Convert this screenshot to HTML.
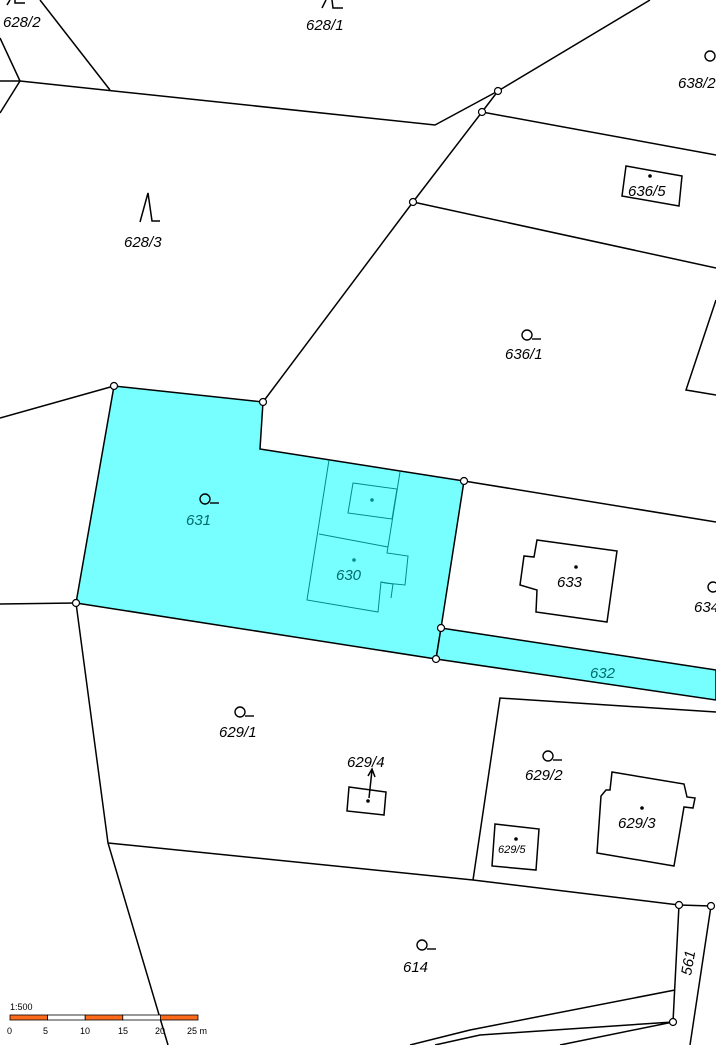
<!DOCTYPE html>
<html><head><style>
body{margin:0;background:#fff;width:716px;height:1045px;overflow:hidden}
svg{display:block}
text{font-family:"Liberation Sans",sans-serif;font-style:italic;font-size:15px;fill:#000}
</style></head><body>
<svg width="716" height="1045" viewBox="0 0 716 1045" xmlns="http://www.w3.org/2000/svg">
<g fill="#77ffff" stroke="#000" stroke-width="1.5">
<polygon points="114,386 263,402 260,449 464,481 441,628 436,659 76,603"/>
<polygon points="441,628 716,670 716,700 436,659"/>
</g>
<g fill="none" stroke="#008b8b" stroke-width="1">
<polyline points="329,460 307,600 378,612 381,582 393,584 391,598"/>
<polyline points="381,582 385,583 405,585 408,556 387,553 400,472"/>
<line x1="319" y1="534" x2="388" y2="547"/>
<polygon points="353,483 397,489 392,519 348,513"/>
</g>
<g fill="none" stroke="#000" stroke-width="1.5">
<line x1="40" y1="0" x2="110" y2="90"/>
<polyline points="0,81 20,81 435,125 498,91 650,0"/>
<line x1="0" y1="38" x2="20" y2="81"/>
<line x1="20" y1="81" x2="0" y2="113"/>
<polyline points="498,91 482,112 413,202 263,402"/>
<line x1="482" y1="112" x2="716" y2="155"/>
<line x1="413" y1="202" x2="716" y2="268"/>
<line x1="0" y1="418" x2="114" y2="386"/>
<line x1="0" y1="604" x2="76" y2="603"/>
<line x1="464" y1="481" x2="716" y2="522"/>
<polyline points="76,603 108,843 168,1045"/>
<polyline points="108,843 473,880 679,905 711,906"/>
<polyline points="473,880 500,698 716,712"/>
<line x1="679" y1="905" x2="673" y2="1022"/>
<line x1="711" y1="906" x2="690" y2="1045"/>
<polyline points="410,1045 470,1030 675,990"/>
<polyline points="435,1045 480,1035 673,1022"/>
<line x1="673" y1="1022" x2="560" y2="1045"/>
<polyline points="716,300 686,390 716,395"/>
<polygon points="626,166 682,176 679,206 622,196"/>
<polygon points="537,540 617,551 607,622 536,612 537,590 520,585 524,556 534,557"/>
<polygon points="349,787 386,792 384,815 347,811"/>
<polygon points="495,824 539,829 536,870 492,866"/>
<polygon points="612,772 684,784 687,797 695,798 693,808 684,807 674,866 597,853 601,796 606,790 610,790"/>
<line x1="369" y1="798" x2="372" y2="770"/>
<polyline points="368,776 372,769 375,777"/>
<polyline points="140,222 148,193 152,221 160,221"/>
<polyline points="322,8 326,0"/>
<polyline points="332,0 333,8 343,8"/>
<polyline points="7,5 10,0"/>
<polyline points="15,0 15,3 25,3"/>
</g>
<g fill="#fff" stroke="#000" stroke-width="1.2">
<circle cx="498" cy="91" r="3.5"/><circle cx="482" cy="112" r="3.5"/><circle cx="413" cy="202" r="3.5"/>
<circle cx="263" cy="402" r="3.5"/><circle cx="114" cy="386" r="3.5"/><circle cx="76" cy="603" r="3.5"/>
<circle cx="464" cy="481" r="3.5"/><circle cx="441" cy="628" r="3.5"/><circle cx="436" cy="659" r="3.5"/>
<circle cx="679" cy="905" r="3.5"/><circle cx="711" cy="906" r="3.5"/><circle cx="673" cy="1022" r="3.5"/>
</g>
<g fill="#000">
<circle cx="650" cy="176" r="1.8"/><circle cx="576" cy="567" r="1.8"/><circle cx="368" cy="801" r="1.8"/>
<circle cx="516" cy="839" r="1.8"/><circle cx="642" cy="808" r="1.8"/>
</g>
<g fill="#008b8b"><circle cx="372" cy="500" r="1.8"/><circle cx="354" cy="560" r="1.8"/></g>
<g fill="none" stroke="#000" stroke-width="1.4">
<circle cx="527" cy="335" r="5"/><line x1="532" y1="339" x2="541" y2="339"/>
<circle cx="205" cy="499" r="5"/><line x1="210" y1="503" x2="219" y2="503"/>
<circle cx="713" cy="587" r="5"/>
<circle cx="240" cy="712" r="5"/><line x1="245" y1="716" x2="254" y2="716"/>
<circle cx="548" cy="756" r="5"/><line x1="553" y1="760" x2="562" y2="760"/>
<circle cx="422" cy="945" r="5"/><line x1="427" y1="949" x2="436" y2="949"/>
<circle cx="710" cy="56" r="5"/>
</g>
<text x="3" y="27">628/2</text>
<text x="306" y="30">628/1</text>
<text x="678" y="88">638/2</text>
<text x="628" y="196">636/5</text>
<text x="124" y="247">628/3</text>
<text x="505" y="359">636/1</text>
<text x="186" y="525" style="fill:#006b6b">631</text>
<text x="336" y="580" style="fill:#006b6b">630</text>
<text x="557" y="587">633</text>
<text x="694" y="612">634</text>
<text x="590" y="678" style="fill:#006b6b">632</text>
<text x="219" y="737">629/1</text>
<text x="347" y="767">629/4</text>
<text x="525" y="780">629/2</text>
<text x="618" y="828">629/3</text>
<text x="498" y="853" style="font-size:11px">629/5</text>
<text x="403" y="972">614</text>
<text transform="translate(691,976) rotate(-80)">561</text>
<text x="10" y="1010" style="font-style:normal;font-size:9px">1:500</text>
<g stroke="#000" stroke-width="0.8">
<rect x="10" y="1015" width="37.6" height="5" fill="#ff6a1a"/>
<rect x="47.6" y="1015" width="37.6" height="5" fill="#fff"/>
<rect x="85.2" y="1015" width="37.6" height="5" fill="#ff6a1a"/>
<rect x="122.8" y="1015" width="37.6" height="5" fill="#fff"/>
<rect x="160.4" y="1015" width="37.6" height="5" fill="#ff6a1a"/>
</g>
<text x="7" y="1034" style="font-style:normal;font-size:9px">0</text>
<text x="43" y="1034" style="font-style:normal;font-size:9px">5</text>
<text x="80" y="1034" style="font-style:normal;font-size:9px">10</text>
<text x="118" y="1034" style="font-style:normal;font-size:9px">15</text>
<text x="155" y="1034" style="font-style:normal;font-size:9px">20</text>
<text x="187" y="1034" style="font-style:normal;font-size:9px">25 m</text>
</svg>
</body></html>
